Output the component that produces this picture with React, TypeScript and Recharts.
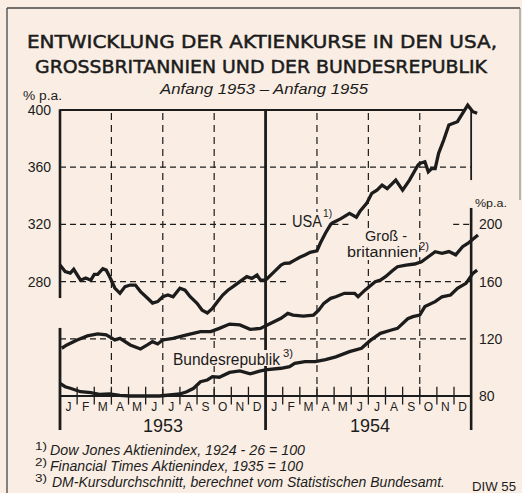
import React from 'react';
import { LineChart, Line, XAxis, YAxis, ReferenceLine } from 'recharts';

// time in months from start of 1953 (0 = Jan 1953, 24 = Jan 1955)
const usaT = [0, 0.3, 0.6, 0.8, 1.2, 1.5, 1.8, 2.0, 2.2, 2.5, 2.7, 2.9, 3.2, 3.5, 3.8, 4.1, 4.4, 4.7, 5.1, 5.4, 5.7, 6.0, 6.3, 6.6, 7.0, 7.3, 7.6, 8.0, 8.3, 8.6, 8.9, 9.2, 9.5, 9.8, 10.1, 10.5, 10.9, 11.2, 11.5, 11.7, 12.0, 12.3, 12.6, 12.9, 13.1, 13.4, 13.7, 14.0, 14.3, 14.6, 15.0, 15.2, 15.5, 15.8, 15.9, 16.4, 16.9, 17.3, 17.5, 17.9, 18.2, 18.5, 18.8, 19.1, 19.6, 20.0, 20.4, 20.9, 21.0, 21.3, 21.5, 21.7, 21.9, 22.1, 22.4, 22.7, 23.2, 23.5, 23.8, 24.1, 24.35];
const usaV = [291.6, 287, 286, 288.6, 281, 282.5, 281, 285, 285, 289, 288, 283.4, 275.5, 271.8, 276.5, 277.6, 277.6, 273, 268.5, 265, 266, 269.4, 270.6, 269.4, 275.3, 274, 269.4, 264.8, 260, 258, 261.3, 266, 270.6, 274, 276.5, 280, 283.5, 282.3, 284.6, 281, 281, 284.5, 288, 291.6, 292.8, 293, 295, 297, 298.6, 300.5, 301.5, 307, 314, 320, 321, 324, 327.7, 325, 329, 334.7, 341.7, 344, 347.5, 345, 351, 344, 351, 361.5, 362.6, 363.8, 356.8, 359, 359, 369.7, 379, 389.5, 391.8, 397.7, 403.4, 398.8, 397.7];

const gbT = [0.1, 0.4, 1.0, 1.6, 2.2, 2.7, 3.2, 3.5, 4.1, 4.7, 5.1, 5.4, 5.7, 6.0, 6.6, 7.4, 8.2, 8.8, 9.3, 9.9, 10.5, 11.1, 11.7, 12.1, 12.9, 13.3, 13.6, 14.2, 14.8, 15.1, 15.4, 15.8, 16.1, 16.6, 17.2, 17.4, 17.8, 18.4, 18.7, 19.0, 19.4, 19.7, 20.2, 20.7, 21.1, 21.5, 21.9, 22.3, 22.7, 23.1, 23.5, 23.8, 24.4];
const gbV = [113.4, 115.7, 119.2, 122, 123.4, 122.7, 119.2, 120.3, 115.7, 112.9, 115.7, 118, 116.4, 119.2, 120.3, 122.7, 125, 125, 127.3, 130.3, 129.7, 126.6, 127.3, 129.7, 134.3, 137.8, 136.6, 135.9, 136.6, 140, 144.8, 148.3, 149.4, 151.8, 151.8, 149.4, 154, 159.9, 161, 163.4, 167.6, 170.4, 171.6, 172.3, 173.9, 177.4, 180.9, 179.8, 181, 178.7, 184.4, 186.7, 192.6];

const brdT = [0, 0.3, 0.6, 1.2, 1.8, 2.3, 2.9, 3.5, 4.1, 4.7, 5.3, 5.8, 6.4, 7.0, 7.4, 7.8, 8.2, 8.6, 8.9, 9.3, 9.9, 10.5, 11.1, 11.7, 12.1, 12.9, 13.4, 13.7, 14.3, 14.9, 15.5, 16.1, 16.9, 17.6, 18.1, 18.7, 19.3, 19.7, 20.3, 20.6, 21.0, 21.3, 21.9, 22.3, 22.8, 23.2, 23.7, 24.1, 24.35];
const brdV = [88.9, 86.5, 85.4, 83, 82.3, 81.2, 81.4, 80.5, 80, 80, 80, 80, 80.7, 81.4, 83, 85.4, 90, 91.2, 93.5, 93.1, 96.5, 97.5, 95.5, 97.5, 98.5, 99.4, 100.5, 102.8, 104, 104, 105.4, 107.4, 111, 113.4, 118.7, 123.8, 126, 127.3, 134, 135.5, 136.6, 142.5, 146, 149.4, 150.6, 155.3, 158.8, 165.8, 168];

const monthLabels = ['J', 'F', 'M', 'A', 'M', 'J', 'J', 'A', 'S', 'O', 'N', 'D'];
const leftTicks = [280, 320, 360, 400];
const rightTicks = [80, 120, 160, 200];
const quarterLines = [3, 6, 9, 15, 18, 21];

const monthMids = Array.from({ length: 24 }, (_, i) => i + 0.5);
const monthBounds = Array.from({ length: 23 }, (_, i) => i + 1).filter(m => m !== 12);

const toData = (t: number[], v: number[]) => t.map((tt, i) => ({ t: tt, v: v[i] }));
const usaData = toData(usaT, usaV);
const gbData = toData(gbT, gbV);
const brdData = toData(brdT, brdV);

const INK = '#1c1c1c';
const BG = '#FAEEE4';
const SANS = '"Liberation Sans", Arial, sans-serif';
const DJ = '"DejaVu Sans", sans-serif';

const T = ({ x, y, w, size, italic, family, anchor, heavy, children }: any) => (
    <text
        x={x}
        y={y}
        textLength={w}
        lengthAdjust={w ? 'spacingAndGlyphs' : undefined}
        fontSize={size}
        fontStyle={italic ? 'italic' : 'normal'}
        fontFamily={family || SANS}
        textAnchor={anchor || 'start'}
        fill={INK}
        stroke={heavy ? INK : undefined}
        strokeWidth={heavy ? heavy : undefined}
    >
        {children}
    </text>
);

const dashH = { stroke: INK, strokeWidth: 1.2, strokeDasharray: '6 4' };
const dashV = { stroke: INK, strokeWidth: 1.2, strokeDasharray: '7 5' };

export default function App() {
    return (
        <div style={{ position: 'fixed', left: 0, top: 0, width: 522, height: 493, background: BG, overflow: 'hidden' }}>
            <div style={{ position: 'absolute', left: 0, top: 0 }}>
                <LineChart width={522} height={493} margin={{ top: 95.7, right: 0, bottom: 0, left: 0 }}>
                    <XAxis
                        type="number"
                        dataKey="t"
                        domain={[0, 24.4]}
                        ticks={monthMids}
                        interval={0}
                        tickFormatter={(v: number) => monthLabels[Math.floor(v) % 12]}
                        axisLine={false}
                        tickLine={false}
                        tickSize={0}
                        tickMargin={6}
                        height={97}
                        tick={{ fill: INK, fontSize: 12, fontFamily: SANS }}
                    />
                    <YAxis
                        yAxisId="L"
                        type="number"
                        domain={[200, 410]}
                        ticks={leftTicks}
                        interval={0}
                        width={60}
                        axisLine={false}
                        tickLine={false}
                        tickSize={0}
                        tickMargin={9}
                        tick={{ fill: INK, fontSize: 14, fontFamily: SANS }}
                    />
                    <YAxis
                        yAxisId="R"
                        orientation="right"
                        type="number"
                        domain={[80, 290]}
                        ticks={rightTicks}
                        interval={0}
                        width={44}
                        axisLine={false}
                        tickLine={false}
                        tickSize={0}
                        tickMargin={1}
                        tick={{ fill: INK, fontSize: 14, fontFamily: SANS }}
                    />

                    {/* dashed grid */}
                    <ReferenceLine yAxisId="L" segment={[{ x: 0, y: 360 }, { x: 24, y: 360 }]} {...dashH} />
                    <ReferenceLine yAxisId="L" segment={[{ x: 0, y: 320 }, { x: 13.3, y: 320 }]} {...dashH} />
                    <ReferenceLine yAxisId="L" segment={[{ x: 15.9, y: 320 }, { x: 16.9, y: 320 }]} {...dashH} />
                    <ReferenceLine yAxisId="L" segment={[{ x: 22.95, y: 320 }, { x: 24, y: 320 }]} {...dashH} />
                    <ReferenceLine yAxisId="L" segment={[{ x: 0, y: 280 }, { x: 13.25, y: 280 }]} {...dashH} />
                    <ReferenceLine yAxisId="L" segment={[{ x: 17.8, y: 280 }, { x: 24, y: 280 }]} {...dashH} />
                    <ReferenceLine yAxisId="R" segment={[{ x: 0, y: 120 }, { x: 24, y: 120 }]} {...dashH} />
                    {quarterLines.map(q => (
                        <ReferenceLine key={'q' + q} yAxisId="R" segment={[{ x: q, y: 80 }, { x: q, y: 280 }]} {...dashV} />
                    ))}

                    {/* month ticks */}
                    {monthBounds.map(m => (
                        <ReferenceLine key={'m' + m} yAxisId="R" ifOverflow="visible" segment={[{ x: m, y: 74 }, { x: m, y: 86.5 }]} stroke={INK} strokeWidth={1.3} />
                    ))}

                    {/* frame of the plot */}
                    <ReferenceLine yAxisId="L" segment={[{ x: 0, y: 400 }, { x: 23.6, y: 400 }]} stroke={INK} strokeWidth={1.8} />
                    <ReferenceLine yAxisId="R" segment={[{ x: 0, y: 80 }, { x: 24, y: 80 }]} stroke={INK} strokeWidth={1.8} />
                    <ReferenceLine yAxisId="R" segment={[{ x: 0, y: 280.5 }, { x: 0, y: 148.5 }]} stroke={INK} strokeWidth={2.6} />
                    <ReferenceLine yAxisId="R" ifOverflow="visible" segment={[{ x: 0, y: 127.6 }, { x: 0, y: 56.2 }]} stroke={INK} strokeWidth={2.8} />
                    <ReferenceLine yAxisId="R" ifOverflow="visible" segment={[{ x: 12, y: 280.5 }, { x: 12, y: 56.2 }]} stroke={INK} strokeWidth={2.8} />
                    <ReferenceLine yAxisId="R" segment={[{ x: 24, y: 280.5 }, { x: 24, y: 231 }]} stroke={INK} strokeWidth={1.8} />
                    <ReferenceLine yAxisId="R" ifOverflow="visible" segment={[{ x: 24, y: 211.5 }, { x: 24, y: 56.2 }]} stroke={INK} strokeWidth={2.6} />

                    <Line data={usaData} yAxisId="L" dataKey="v" type="linear" stroke={INK} strokeWidth={3.3} dot={false} isAnimationActive={false} />
                    <Line data={gbData} yAxisId="R" dataKey="v" type="linear" stroke={INK} strokeWidth={3.3} dot={false} isAnimationActive={false} />
                    <Line data={brdData} yAxisId="R" dataKey="v" type="linear" stroke={INK} strokeWidth={3.3} dot={false} isAnimationActive={false} />
                </LineChart>
            </div>

            <svg width={522} height={493} style={{ position: 'absolute', left: 0, top: 0, pointerEvents: 'none' }}>
                {/* outer frame */}
                <line x1={7} y1={8} x2={520} y2={8} stroke="#444" strokeWidth={1.3} />
                <line x1={7} y1={8} x2={7} y2={493} stroke="#444" strokeWidth={1.3} />
                <line x1={520} y1={8} x2={520} y2={200} stroke="#777" strokeWidth={1} />

                <T x={27} y={48} w={470} size={18} family={DJ} heavy={0.5}>ENTWICKLUNG DER AKTIENKURSE IN DEN USA,</T>
                <T x={35} y={73} w={452} size={18} family={DJ} heavy={0.5}>GROSSBRITANNIEN UND DER BUNDESREPUBLIK</T>
                <T x={160} y={94} w={208} size={15} italic>Anfang 1953 – Anfang 1955</T>

                <T x={23} y={100} w={39} size={12}>% p.a.</T>
                <T x={475} y={207} w={32} size={11}>%p.a.</T>

                {/* series labels */}
                <rect x={290} y={212} width={32} height={18} fill={BG} />
                <T x={292} y={227} w={30} size={16}>USA</T>
                <T x={323} y={217} w={9} size={11}>1)</T>

                <rect x={345} y={228} width={73} height={32} fill={BG} />
                <T x={365} y={241} w={42} size={14}>Groß -</T>
                <T x={347} y={257} w={71} size={14}>britannien</T>
                <T x={419} y={250} w={10} size={11}>2)</T>

                <rect x={171} y={350} width={110} height={16} fill={BG} />
                <T x={173} y={365} w={107} size={16}>Bundesrepublik</T>
                <T x={283} y={357} w={10} size={11}>3)</T>

                <T x={143} y={432} w={40} size={18}>1953</T>
                <T x={350} y={432} w={40} size={18}>1954</T>

                <T x={35} y={450} w={12} size={11}>1)</T>
                <T x={50} y={455} w={255} size={14} italic>Dow Jones Aktienindex, 1924 - 26 = 100</T>
                <T x={35} y={466} w={12} size={11}>2)</T>
                <T x={50} y={471} w={253} size={14} italic>Financial Times Aktienindex, 1935 = 100</T>
                <T x={35} y={482} w={12} size={11}>3)</T>
                <T x={52} y={487} w={393} size={14} italic>DM-Kursdurchschnitt, berechnet vom Statistischen Bundesamt.</T>
                <T x={472} y={491} w={44} size={13}>DIW 55</T>
            </svg>
        </div>
    );
}
